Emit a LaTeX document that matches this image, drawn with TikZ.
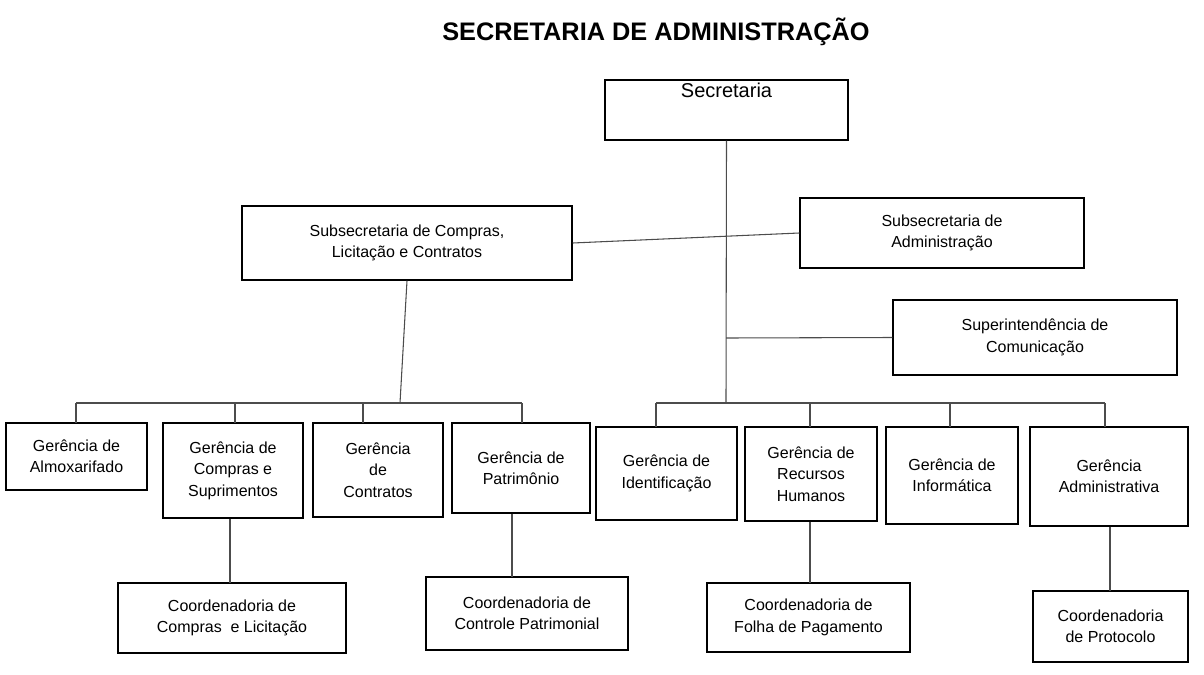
\documentclass[tikz,border=0pt]{standalone}
\usepackage{fontspec}
\setmainfont{Liberation Sans}
\begin{document}
\begin{tikzpicture}[x=0.75pt,y=-0.75pt,
 box/.style={draw=black,line width=1.1pt,align=center,font=\fontsize{12}{16}\selectfont,inner sep=0pt},
 ln/.style={draw=black!70,line width=0.8pt}]
\useasboundingbox (0,0) rectangle (1204,675);
\node[font=\bfseries\fontsize{19}{22}\selectfont] (t) at (656,32) {SECRETARIA DE ADMINISTRAÇÃO};
\newcommand{\bx}[6]{\node[box,minimum width=(#4-#2)*0.75pt,minimum height=(#5-#3)*0.75pt] (#1) at ({(#2+#4)/2},{(#3+#5)/2}) {#6};}
\bx{sec}{605}{80}{848}{140}{\fontsize{15}{18}\selectfont Secretaria\\[14pt]}
\bx{sc}{242}{206}{572}{280}{Subsecretaria de Compras,\\Licitação e Contratos}
\bx{sa}{800}{198}{1084}{268}{Subsecretaria de\\Administração}
\bx{su}{893}{300}{1177}{375}{Superintendência de\\Comunicação}
\bx{g1}{6}{423}{147}{490}{Gerência de\\Almoxarifado}
\bx{g2}{163}{423}{303}{518}{Gerência de\\Compras e\\Suprimentos}
\bx{g3}{313}{423}{443}{517}{Gerência\\de\\Contratos}
\bx{g4}{452}{423}{590}{513}{Gerência de\\Patrimônio}
\bx{g5}{596}{427}{737}{520}{Gerência de\\Identificação}
\bx{g6}{745}{427}{877}{521}{Gerência de\\Recursos\\Humanos}
\bx{g7}{886}{427}{1018}{524}{Gerência de\\Informática}
\bx{g8}{1030}{427}{1188}{526}{Gerência\\Administrativa}
\bx{c1}{118}{583}{346}{653}{Coordenadoria de\\Compras \ e Licitação}
\bx{c2}{426}{577}{628}{650}{Coordenadoria de\\Controle Patrimonial}
\bx{c3}{707}{583}{910}{652}{Coordenadoria de\\Folha de Pagamento}
\bx{c4}{1033}{591}{1188}{662}{Coordenadoria\\de Protocolo}
\coordinate (rb) at (726,403);
\draw[ln] (sec.south) -- (rb);
\draw[ln] (sc.east) -- (sa.west);
\draw[ln] (726,338) -- (su.west);
\draw[ln] (sc.south) -- (400,403);
\draw[ln] (76,403) -- (522,403);
\draw[ln] (656,403) -- (1105,403);
\foreach \n/\x in {g1/76,g2/235,g3/363,g4/522}{\draw[ln] (\x,403) -- (\x,423);}
\foreach \n/\x in {g5/656,g6/810,g7/950,g8/1105}{\draw[ln] (\x,403) -- (\x,427);}
\draw[ln] (g2.south -| 230,0) -- (230,583);
\draw[ln] (g4.south -| 512,0) -- (512,577);
\draw[ln] (g6.south -| 810,0) -- (810,583);
\draw[ln] (g8.south -| 1110,0) -- (1110,591);
\end{tikzpicture}
\end{document}
